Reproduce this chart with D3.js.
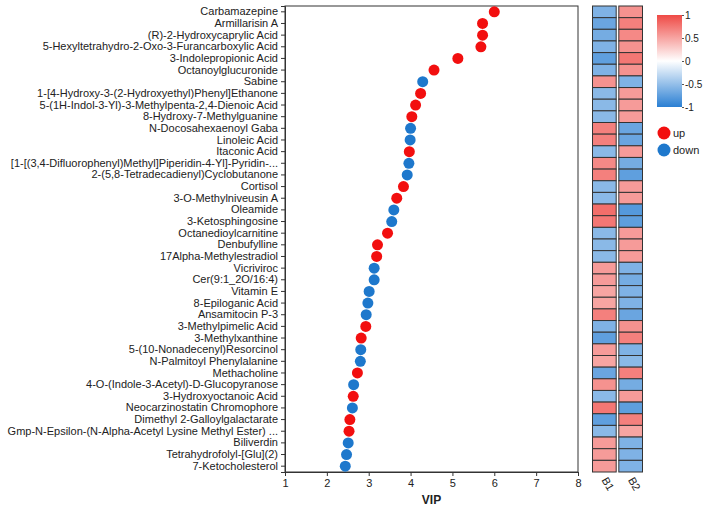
<!DOCTYPE html>
<html>
<head>
<meta charset="utf-8">
<script src="https://cdn.jsdelivr.net/npm/d3@7"></script>
<style>
  body { margin: 0; background: #fff; }
  svg text { font-family: Arial, "Liberation Sans", sans-serif; fill: #222; }
</style>
</head>
<body>
<div id="chart"></div>
<script>
const names = [
  "Carbamazepine", "Armillarisin A", "(R)-2-Hydroxycaprylic Acid",
  "5-Hexyltetrahydro-2-Oxo-3-Furancarboxylic Acid", "3-Indolepropionic Acid",
  "Octanoylglucuronide", "Sabine", "1-[4-Hydroxy-3-(2-Hydroxyethyl)Phenyl]Ethanone",
  "5-(1H-Indol-3-Yl)-3-Methylpenta-2,4-Dienoic Acid", "8-Hydroxy-7-Methylguanine",
  "N-Docosahexaenoyl Gaba", "Linoleic Acid", "Itaconic Acid",
  "[1-[(3,4-Difluorophenyl)Methyl]Piperidin-4-Yl]-Pyridin-...",
  "2-(5,8-Tetradecadienyl)Cyclobutanone", "Cortisol", "3-O-Methylniveusin A",
  "Oleamide", "3-Ketosphingosine", "Octanedioylcarnitine", "Denbufylline",
  "17Alpha-Methylestradiol", "Vicriviroc", "Cer(9:1_2O/16:4)", "Vitamin E",
  "8-Epiloganic Acid", "Ansamitocin P-3", "3-Methylpimelic Acid", "3-Methylxanthine",
  "5-(10-Nonadecenyl)Resorcinol", "N-Palmitoyl Phenylalanine", "Methacholine",
  "4-O-(Indole-3-Acetyl)-D-Glucopyranose", "3-Hydroxyoctanoic Acid",
  "Neocarzinostatin Chromophore", "Dimethyl 2-Galloylgalactarate",
  "Gmp-N-Epsilon-(N-Alpha-Acetyl Lysine Methyl Ester) ...", "Biliverdin",
  "Tetrahydrofolyl-[Glu](2)", "7-Ketocholesterol"
];
const vip = [6.00, 5.72, 5.72, 5.68, 5.13, 4.56, 4.29, 4.24, 4.12, 4.03,
  4.00, 3.99, 3.97, 3.96, 3.92, 3.83, 3.67, 3.60, 3.55, 3.45,
  3.21, 3.19, 3.13, 3.13, 3.01, 2.98, 2.94, 2.93, 2.82, 2.81,
  2.80, 2.73, 2.64, 2.63, 2.61, 2.55, 2.53, 2.51, 2.47, 2.44];
const regulation = ["up","up","up","up","up","up","down","up","up","up",
  "down","down","up","down","down","up","up","down","down","up",
  "up","up","down","down","down","down","down","up","up","down",
  "down","up","down","up","down","up","up","down","down","down"];
const samples = ["B1", "B2"];
const b1 = [-0.6, -0.7, -0.65, -0.6, -0.75, -0.6, 0.6, -0.55, -0.55, -0.55,
  0.7, 0.7, -0.55, 0.65, 0.7, -0.55, -0.55, 0.8, 0.75, -0.55,
  -0.55, -0.55, 0.55, 0.55, 0.5, 0.5, 0.7, -0.6, -0.75, 0.55,
  0.5, -0.7, 0.6, -0.55, 0.75, -0.75, -0.55, 0.55, 0.55, 0.55];
const b2 = [0.6, 0.7, 0.65, 0.6, 0.75, 0.6, -0.6, 0.55, 0.55, 0.55,
  -0.7, -0.7, 0.55, -0.65, -0.75, 0.55, 0.55, -0.8, -0.75, 0.55,
  0.55, 0.55, -0.6, -0.65, -0.6, -0.6, -0.7, 0.6, 0.7, -0.6,
  -0.55, 0.7, -0.65, 0.55, -0.75, 0.7, 0.5, -0.6, -0.6, -0.6];
const xTicks = [1, 2, 3, 4, 5, 6, 7, 8];
const legendTicks = [1, 0.5, 0, -0.5, -1];

const W = 708, H = 509;
const plot = { left: 285, right: 578, top: 6, bottom: 472 };

const svg = d3.select("#chart").append("svg")
  .attr("width", W).attr("height", H);

const x = d3.scaleLinear().domain([1, 8]).range([plot.left, plot.right]);
const y = d3.scaleBand().domain(names).range([plot.top, plot.bottom]);
const dotColor = d3.scaleOrdinal().domain(["up", "down"]).range(["#F20F0F", "#1E78CC"]);
const heat = d3.scaleLinear().domain([-1, 0, 1])
  .range(["#2A7FD3", "#FFFFFF", "#EF4A45"]);

// frame
svg.append("rect")
  .attr("x", plot.left).attr("y", plot.top)
  .attr("width", plot.right - plot.left).attr("height", plot.bottom - plot.top)
  .attr("fill", "none").attr("stroke", "#333").attr("stroke-width", 1);

// y axis
const yAxis = svg.append("g")
  .attr("transform", `translate(${plot.left},0)`)
  .call(d3.axisLeft(y).tickSize(4).tickPadding(3));
yAxis.select(".domain").attr("stroke", "#333");
yAxis.selectAll(".tick line").attr("stroke", "#333");
yAxis.selectAll("text").attr("font-size", 11).style("font-family", "Arial, 'Liberation Sans', sans-serif");

// x axis
const xAxis = svg.append("g")
  .attr("transform", `translate(0,${plot.bottom})`)
  .call(d3.axisBottom(x).tickValues(xTicks).tickFormat(d3.format("d")).tickSize(4).tickPadding(3));
xAxis.select(".domain").attr("stroke", "#333");
xAxis.selectAll(".tick line").attr("stroke", "#333");
xAxis.selectAll("text").attr("font-size", 11).style("font-family", "Arial, 'Liberation Sans', sans-serif");

svg.append("text")
  .attr("x", (plot.left + plot.right) / 2).attr("y", 504)
  .attr("text-anchor", "middle")
  .attr("font-size", 12).attr("font-weight", "bold")
  .text("VIP");

// dots
svg.append("g").selectAll("circle")
  .data(names)
  .join("circle")
  .attr("cx", (d, i) => x(vip[i]))
  .attr("cy", d => y(d) + y.bandwidth() / 2)
  .attr("r", 5.5)
  .attr("fill", (d, i) => dotColor(regulation[i]));

// heatmap
const xs = d3.scaleBand().domain(samples).range([592.5, 642.5]).paddingInner(0.1);
const cells = [];
names.forEach((n, i) => {
  cells.push({ name: n, s: "B1", v: b1[i] });
  cells.push({ name: n, s: "B2", v: b2[i] });
});
svg.append("g").selectAll("rect")
  .data(cells)
  .join("rect")
  .attr("x", d => xs(d.s))
  .attr("y", d => y(d.name))
  .attr("width", xs.bandwidth())
  .attr("height", y.bandwidth())
  .attr("fill", d => heat(d.v))
  .attr("stroke", "#333")
  .attr("stroke-width", 1);

svg.append("g").selectAll("text")
  .data(samples)
  .join("text")
  .attr("transform", d => `translate(${xs(d) + xs.bandwidth() / 2 - 3},${plot.bottom + 8}) rotate(60)`)
  .attr("font-size", 11)
  .text(d => d);

// colour legend
const lg = { x: 657, w: 25, top: 15, bottom: 107 };
const defs = svg.append("defs");
const grad = defs.append("linearGradient").attr("id", "heatgrad")
  .attr("x1", 0).attr("y1", 1).attr("x2", 0).attr("y2", 0);
[-1, 0, 1].forEach(v => {
  grad.append("stop").attr("offset", (v + 1) / 2).attr("stop-color", heat(v));
});
svg.append("rect")
  .attr("x", lg.x).attr("y", lg.top)
  .attr("width", lg.w).attr("height", lg.bottom - lg.top)
  .attr("fill", "url(#heatgrad)");
const ly = d3.scaleLinear().domain([-1, 1]).range([lg.bottom, lg.top]);
const lAxis = svg.append("g")
  .attr("transform", `translate(${lg.x + lg.w},0)`)
  .call(d3.axisRight(ly).tickValues(legendTicks).tickFormat(d => String(d)).tickSize(2).tickPadding(1));
lAxis.select(".domain").remove();
lAxis.selectAll(".tick line").attr("stroke", "#555");
lAxis.selectAll("text").attr("font-size", 10).style("font-family", "Arial, 'Liberation Sans', sans-serif");

// up/down legend
const legItems = svg.append("g").selectAll("g")
  .data(["up", "down"])
  .join("g")
  .attr("transform", (d, i) => `translate(664,${133 + i * 17})`);
legItems.append("circle").attr("r", 6.5).attr("fill", d => dotColor(d));
legItems.append("text").attr("x", 9).attr("dy", "0.35em").attr("font-size", 11).text(d => d);
</script>
</body>
</html>
